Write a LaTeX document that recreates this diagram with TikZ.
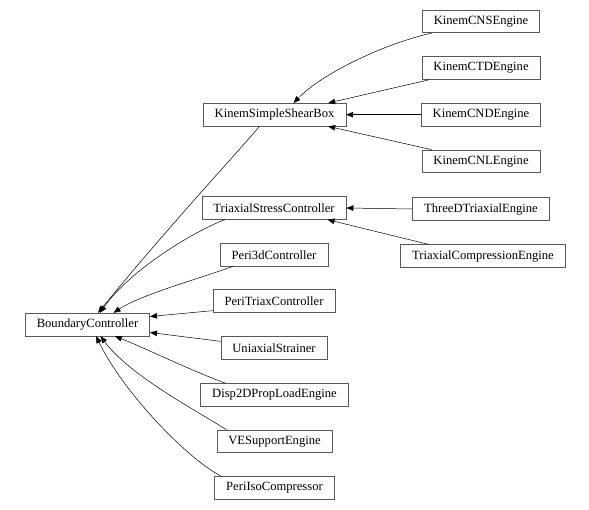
\documentclass[tikz,border=0pt]{standalone}
\usepackage{fontspec}
\setmainfont{Liberation Serif}
\usetikzlibrary{arrows.meta}
\begin{document}
\begin{tikzpicture}[x=1pt,y=-1pt]
    \useasboundingbox (0,0) rectangle (589,510);
    \tikzstyle{classe}=[draw=black!65,line width=0.6pt,minimum height=22.7pt,inner xsep=11.5pt,inner ysep=0pt,font=\fontsize{12.6}{14}\selectfont]
    \tikzstyle{herite}=[-{Triangle[length=7pt,width=5.5pt]},line width=0.5pt]
    %%%%%%%%%%%%%%%%%%%%%%%%%%%%%%%%%%%%%% Base
    \node[classe] (bc) at (87.5,324.5) {BoundaryController};
    %%%%%%%%%%%%%%%%%%%%%%%%%%%%%%%%%%%%%% Niveau 1
    \node[classe] (ssb) at (274.5,114.7) {KinemSimpleShearBox};
    \node[classe] (tsc) at (274,208) {TriaxialStressController};
    \node[classe] (p3d) at (274,254.7) {Peri3dController};
    \node[classe] (ptc) at (274,301) {PeriTriaxController};
    \node[classe] (uni) at (274,348) {UniaxialStrainer};
    \node[classe] (disp) at (274.5,394.7) {Disp2DPropLoadEngine};
    \node[classe] (ves) at (274.5,441.3) {VESupportEngine};
    \node[classe] (piso) at (274.5,488) {PeriIsoCompressor};
    %%%%%%%%%%%%%%%%%%%%%%%%%%%%%%%%%%%%%% Niveau 2
    \node[classe] (cns) at (481,21.3) {KinemCNSEngine};
    \node[classe] (ctd) at (481,68) {KinemCTDEngine};
    \node[classe] (cnd) at (481,114.7) {KinemCNDEngine};
    \node[classe] (cnl) at (481,161.3) {KinemCNLEngine};
    \node[classe] (ttd) at (481,209) {ThreeDTriaxialEngine};
    \node[classe] (tce) at (483,256) {TriaxialCompressionEngine};

    %%%%%%%%%%%%%%%%%%%%%%%%%%%%%%%%%%%%%% Fleches niveau 2
    \draw[herite] ([xshift=10pt]cns.south west) .. controls +(-52,12) and +(27,-28) .. ([xshift=19pt]ssb.north);
    \draw[herite] ([xshift=8pt]ctd.south west) -- ([xshift=-18pt]ssb.north east);
    \draw[herite] (cnd.west) -- (ssb.east);
    \draw[herite] ([xshift=10pt]cnl.north west) -- ([xshift=-18pt]ssb.south east);
    \draw[herite] (ttd.west) -- (tsc.east);
    \draw[herite] ([xshift=28pt]tce.north west) -- ([xshift=-19pt]tsc.south east);

    %%%%%%%%%%%%%%%%%%%%%%%%%%%%%%%%%%%%%% Fleches niveau 1
    \draw[herite] ([xshift=-15pt]ssb.south) .. controls +(-29,34) and +(72,-88) .. ([xshift=10.5pt]bc.north);
    \draw[herite] ([xshift=-49pt]tsc.south) .. controls +(-30,11) and +(30,-43) .. ([xshift=12.5pt]bc.north);
    \draw[herite] ([xshift=-41pt]p3d.south) .. controls +(-33,12) and +(27,-18) .. ([xshift=26pt]bc.north);
    \draw[herite] ([yshift=2pt]ptc.south west) -- ([yshift=8pt]bc.east);
    \draw[herite] ([yshift=-5pt]uni.north west) -- ([yshift=-8pt]bc.east);
    \draw[herite] ([xshift=-49.5pt]disp.north) .. controls +(-35,-13) and +(30,12) .. ([xshift=27.5pt]bc.south);
    \draw[herite] ([xshift=-48pt]ves.north) .. controls +(-32,-20) and +(29,39) .. ([xshift=13pt]bc.south);
    \draw[herite] ([xshift=-53pt]piso.north) .. controls +(-32,-16) and +(29,59) .. ([xshift=8.5pt]bc.south);
\end{tikzpicture}
\end{document}
